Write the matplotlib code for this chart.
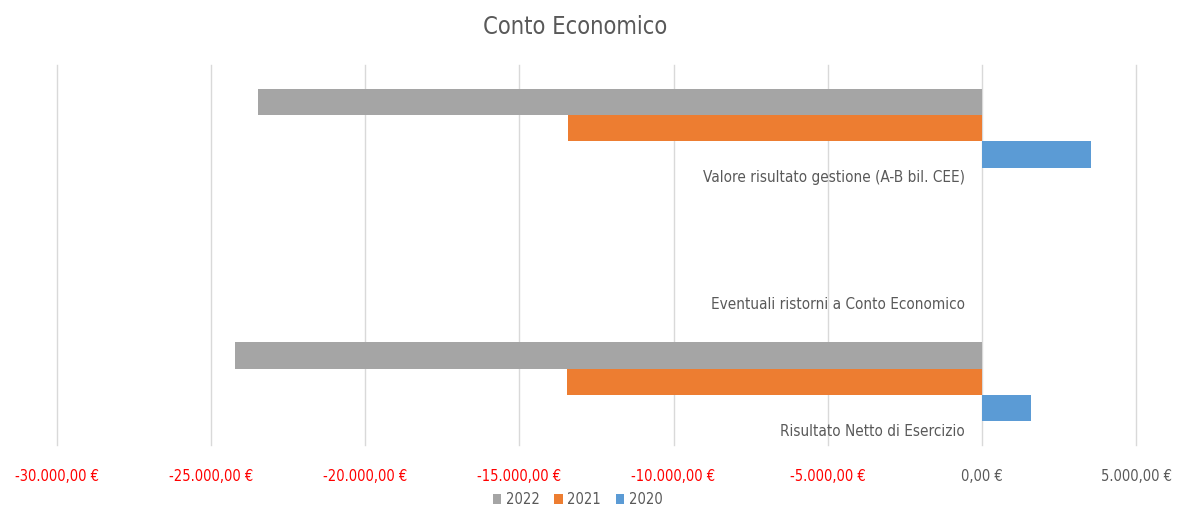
import matplotlib
matplotlib.use("Agg")
import matplotlib.pyplot as plt
import numpy as np

plt.rcParams['font.family'] = ['DejaVu Sans']
plt.rcParams['font.stretch'] = 'condensed'

categories = ["Risultato Netto di Esercizio",
              "Eventuali ristorni a Conto Economico",
              "Valore risultato gestione (A-B bil. CEE)"]
v2022 = [-24230, 0, -23480]
v2021 = [-13460, 0, -13430]
v2020 = [1590, 0, 3535]
ticks = [-30000, -25000, -20000, -15000, -10000, -5000, 0, 5000]

fig = plt.figure(figsize=(11.84, 5.08), dpi=100)
ax = fig.add_axes([0.048, 0.124, 0.9115, 0.748])

y = np.arange(len(categories))
h = 0.207
ax.barh(y + h, v2022, height=h, color="#a5a5a5", label="2022", zorder=2)
ax.barh(y, v2021, height=h, color="#ed7d31", label="2021", zorder=2)
ax.barh(y - h, v2020, height=h, color="#5b9bd5", label="2020", zorder=2)

ax.set_xlim(-30000, 5000)
ax.set_ylim(-0.5, 2.5)
ax.set_xticks(ticks)
ax.set_xticklabels([f"{t:,.2f}".replace(",", "X").replace(".", ",").replace("X", ".") + " €"
                    for t in ticks])
for lab, t in zip(ax.get_xticklabels(), ticks):
    lab.set_color("#ff0000" if t < 0 else "#595959")
    lab.set_fontsize(10.5)
ax.tick_params(axis="x", length=0, pad=17)
ax.set_yticks([])
ax.grid(axis="x", color="#d9d9d9", linewidth=1, zorder=0)
for gl in ax.get_xgridlines():
    gl.set_clip_on(False)
for s in ax.spines.values():
    s.set_visible(False)

for yi, c in zip(y, categories):
    ax.annotate(c, xy=(0, yi - 0.39), xytext=(-12, 0), textcoords="offset points",
                ha="right", va="center", fontsize=11, color="#595959")

fig.text(0.4856, 0.947, "Conto Economico", fontsize=17, color="#595959",
         ha="center", va="center")
ax.legend(loc="upper center", bbox_to_anchor=(0.4825, -0.105), ncol=3, frameon=False,
          fontsize=10.5, handlelength=0.6, handleheight=0.6, handletextpad=0.3,
          columnspacing=1.0, labelcolor="#595959", borderpad=0)

fig.savefig("out.png", dpi=100)
